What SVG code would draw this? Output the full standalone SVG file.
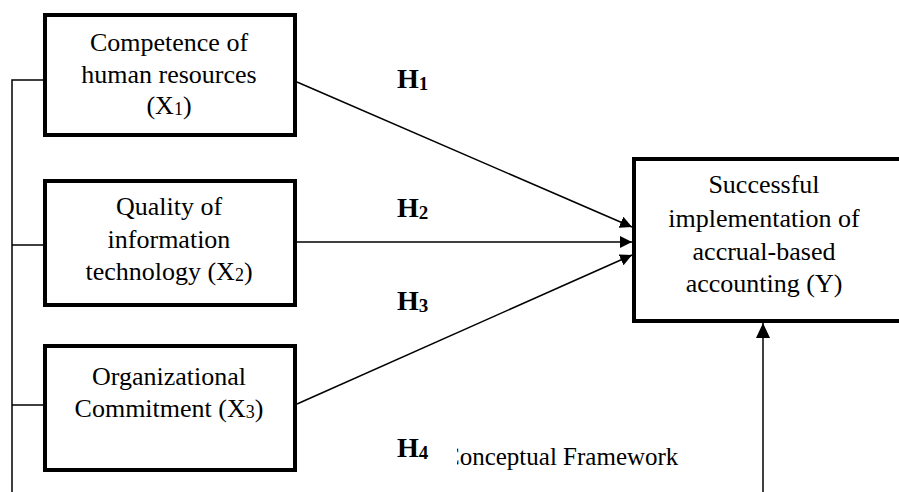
<svg xmlns="http://www.w3.org/2000/svg" width="899" height="492" viewBox="0 0 899 492">
<style>
.box{fill:#fff;stroke:#000;stroke-width:4}
.t{font-family:"Liberation Serif","Times New Roman",serif;font-size:26px;fill:#000;text-anchor:middle}
.h{font-family:"Liberation Serif","Times New Roman",serif;font-size:28px;font-weight:bold;fill:#000}
.c{fill:none;stroke:#000;stroke-width:1.5}
</style>
<defs>
<marker id="ah" markerUnits="userSpaceOnUse" markerWidth="12" markerHeight="12" refX="12" refY="6" orient="auto"><path d="M0,0 L12,6 L0,12 z" fill="#000"/></marker>
<marker id="ahv" markerUnits="userSpaceOnUse" markerWidth="15" markerHeight="14" refX="15" refY="7" orient="auto"><path d="M0,0 L15,7 L0,14 z" fill="#000"/></marker>
<clipPath id="cap"><rect x="457" y="430" width="300" height="50"/></clipPath>
</defs>
<rect width="899" height="492" fill="#fff"/>
<g id="connectors">
<path class="c" d="M45,80 H12 V492 M12,245 H45 M12,405 H45"/>
<line class="c" x1="297" y1="82" x2="632" y2="227" marker-end="url(#ah)"/>
<line class="c" x1="297" y1="242" x2="632" y2="242" marker-end="url(#ah)"/>
<line class="c" x1="297" y1="404" x2="632" y2="255" marker-end="url(#ah)"/>
<line class="c" x1="763" y1="492" x2="763" y2="323" marker-end="url(#ahv)"/>
</g>
<g id="x1">
<rect class="box" x="45" y="15" width="250" height="120"/>
<text class="t" x="169" y="51">Competence of</text>
<text class="t" x="169" y="83">human resources</text>
<text class="t" x="169" y="114">(X<tspan font-size="18" dy="1">1</tspan><tspan dy="-1">)</tspan></text>
</g>
<g id="x2">
<rect class="box" x="45" y="181" width="250" height="124"/>
<text class="t" x="169" y="215">Quality of</text>
<text class="t" x="169" y="248">information</text>
<text class="t" x="169" y="280">technology (X<tspan font-size="18" dy="1">2</tspan><tspan dy="-1">)</tspan></text>
</g>
<g id="x3">
<rect class="box" x="45" y="346" width="250" height="124"/>
<text class="t" x="169" y="385">Organizational</text>
<text class="t" x="169" y="417">Commitment (X<tspan font-size="18" dy="1">3</tspan><tspan dy="-1">)</tspan></text>
</g>
<g id="y">
<rect class="box" x="634" y="159" width="275" height="162"/>
<text class="t" x="764" y="193">Successful</text>
<text class="t" x="764" y="227">implementation of</text>
<text class="t" x="764" y="260">accrual-based</text>
<text class="t" x="764" y="292">accounting (Y)</text>
</g>
<g id="labels">
<text class="h" x="397" y="88">H<tspan font-size="19" dy="2">1</tspan></text>
<text class="h" x="397" y="217">H<tspan font-size="19" dy="2">2</tspan></text>
<text class="h" x="397" y="310">H<tspan font-size="19" dy="2">3</tspan></text>
<text class="h" x="397" y="457">H<tspan font-size="19" dy="2">4</tspan></text>
<text clip-path="url(#cap)" font-family="'Liberation Serif','Times New Roman',serif" font-size="25" x="443" y="465">Conceptual Framework</text>
</g>
</svg>
